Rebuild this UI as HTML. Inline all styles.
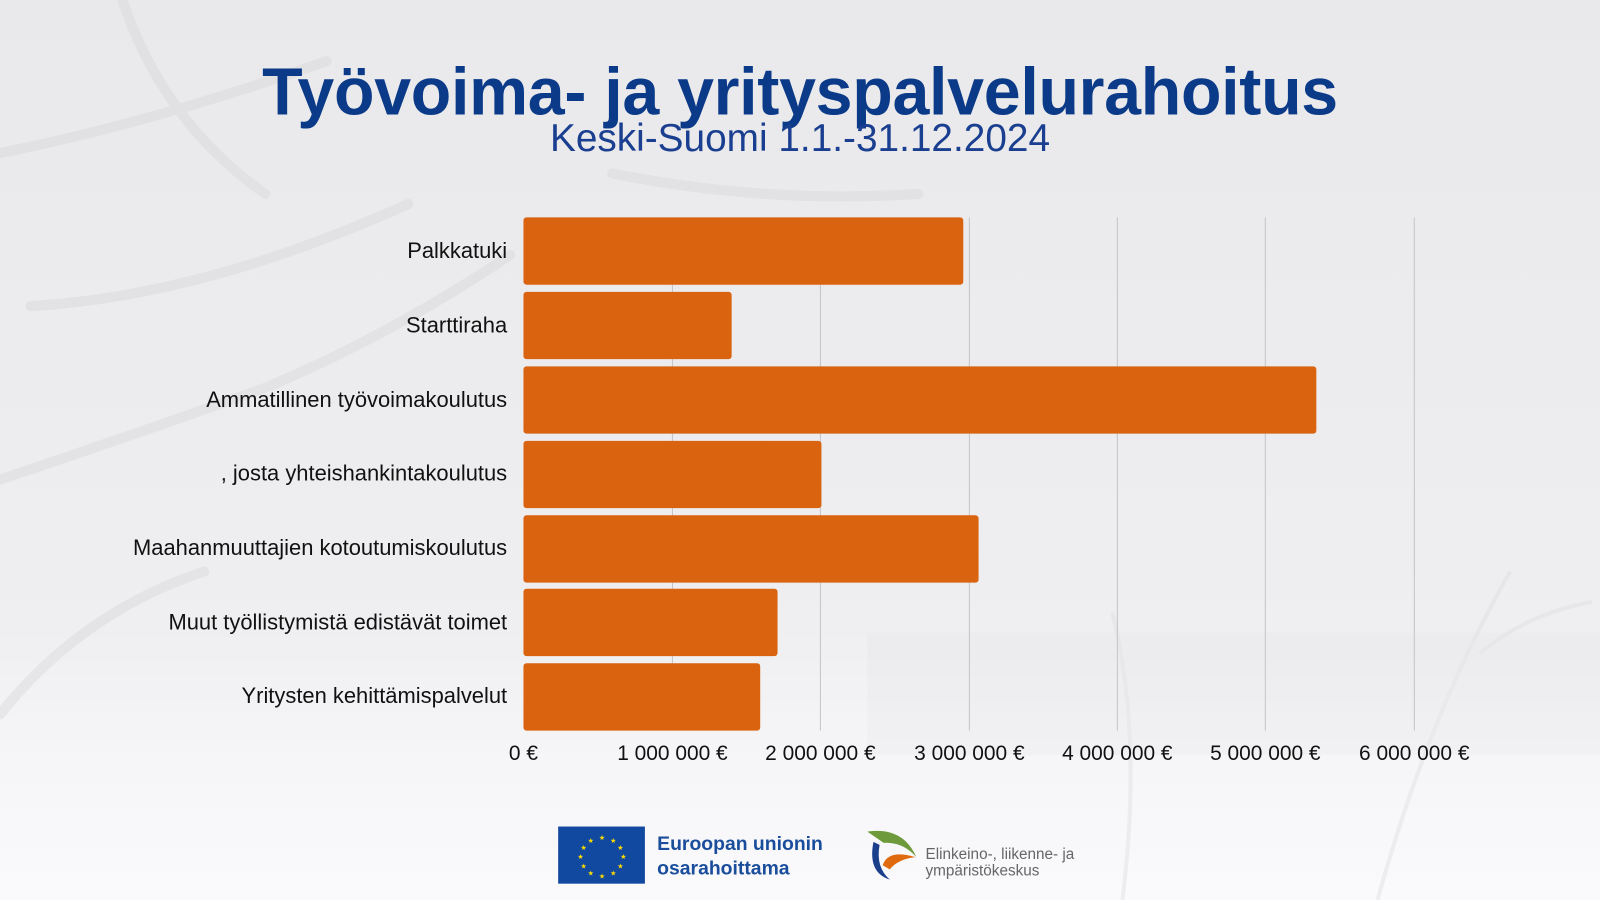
<!DOCTYPE html>
<html><head><meta charset="utf-8"><style>
html,body{margin:0;padding:0;width:1600px;height:900px;overflow:hidden;}
#w{position:absolute;left:0;top:0;width:1568px;height:882px;transform:scale(1.020408,1.020408);transform-origin:0 0;
background:linear-gradient(180deg,#e9e9eb 0%,#ececee 40%,#efeff1 70%,#f6f6f8 85%,#fafafc 100%);font-family:"Liberation Sans",sans-serif;overflow:hidden;}
.t{position:absolute;white-space:nowrap;}
</style></head><body><div id="w">
<svg width="1568" height="882" style="position:absolute;left:0;top:0" opacity="0.4">
<g stroke="#d6d6d9" fill="none" stroke-width="10" stroke-linecap="round">
<path d="M0 150 Q150 120 320 60"/><path d="M0 470 Q120 430 260 380 Q380 330 500 250"/>
<path d="M0 700 Q80 600 200 560"/><path d="M120 0 Q160 120 260 190"/>
<path d="M600 170 Q750 200 900 190"/><path d="M30 300 Q200 290 400 200"/>
</g>
<g stroke="#dcdcdf" fill="none" stroke-width="4">
<path d="M1350 882 Q1400 700 1480 560"/><path d="M1100 882 Q1120 720 1090 600"/>
<path d="M1450 640 Q1500 600 1560 590"/>
</g>
<rect x="850" y="620" width="718" height="120" fill="#dcdcdf" opacity="0.4"/>
</svg>
<div class="t" style="left:0;width:1568px;text-align:center;top:52px;font-size:65px;font-weight:bold;color:#0b3a88;letter-spacing:-0.3px;">Työvoima- ja yrityspalvelurahoitus</div>
<div class="t" style="left:0;width:1568px;text-align:center;top:115px;font-size:38px;color:#1b3f90;">Keski-Suomi 1.1.-31.12.2024</div>
<svg width="1568" height="882" style="position:absolute;left:0;top:0">
<g stroke="#c4c4c8" stroke-width="1">
<line x1="659" y1="213" x2="659" y2="716"/><line x1="804" y1="213" x2="804" y2="716"/>
<line x1="950" y1="213" x2="950" y2="716"/><line x1="1095" y1="213" x2="1095" y2="716"/>
<line x1="1240" y1="213" x2="1240" y2="716"/><line x1="1386" y1="213" x2="1386" y2="716"/>
</g>
<g fill="#d9630f">
<rect x="513" y="213" width="431" height="66" rx="3"/>
<rect x="513" y="286" width="204" height="66" rx="3"/>
<rect x="513" y="359" width="777" height="66" rx="3"/>
<rect x="513" y="432" width="292" height="66" rx="3"/>
<rect x="513" y="505" width="446" height="66" rx="3"/>
<rect x="513" y="577" width="249" height="66" rx="3"/>
<rect x="513" y="650" width="232" height="66" rx="3"/>
</g>
<g font-family="Liberation Sans, sans-serif" font-size="21.5" fill="#111" text-anchor="end">
<text x="497" y="253">Palkkatuki</text>
<text x="497" y="326">Starttiraha</text>
<text x="497" y="399">Ammatillinen työvoimakoulutus</text>
<text x="497" y="471">, josta yhteishankintakoulutus</text>
<text x="497" y="544">Maahanmuuttajien kotoutumiskoulutus</text>
<text x="497" y="617">Muut työllistymistä edistävät toimet</text>
<text x="497" y="689">Yritysten kehittämispalvelut</text>
</g>
<g font-family="Liberation Sans, sans-serif" font-size="20.5" fill="#111" text-anchor="middle">
<text x="513" y="745">0 €</text><text x="659" y="745">1 000 000 €</text>
<text x="804" y="745">2 000 000 €</text><text x="950" y="745">3 000 000 €</text>
<text x="1095" y="745">4 000 000 €</text><text x="1240" y="745">5 000 000 €</text>
<text x="1386" y="745">6 000 000 €</text>
</g>
<rect x="547" y="810" width="85" height="56" fill="#1148a0"/>
<g fill="#ffdd00" font-size="7" text-anchor="middle">
<text x="590" y="823">★</text><text x="601" y="826">★</text><text x="608" y="833">★</text><text x="611" y="842">★</text>
<text x="608" y="851">★</text><text x="601" y="858">★</text><text x="590" y="861">★</text><text x="579" y="858">★</text>
<text x="572" y="851">★</text><text x="569" y="842">★</text><text x="572" y="833">★</text><text x="579" y="826">★</text>
</g>
<text x="644" y="833" font-family="Liberation Sans, sans-serif" font-size="19" font-weight="bold" fill="#1a4e9c">Euroopan unionin</text>
<text x="644" y="857" font-family="Liberation Sans, sans-serif" font-size="19" font-weight="bold" fill="#1a4e9c">osarahoittama</text>
<path d="M850 815 Q885 810 898 840 Q885 825 866 826 Z" fill="#6e9a3c"/>
<path d="M856 825 Q850 855 872 862 Q858 850 862 828 Z" fill="#1c3f8c"/>
<path d="M865 848 Q870 832 897 840 Q880 842 872 852 Z" fill="#e06a10"/>
<text x="907" y="842" font-family="Liberation Sans, sans-serif" font-size="15" fill="#666">Elinkeino-, liikenne- ja</text>
<text x="907" y="858" font-family="Liberation Sans, sans-serif" font-size="15" fill="#666">ympäristökeskus</text>
</svg>
</div></body></html>
